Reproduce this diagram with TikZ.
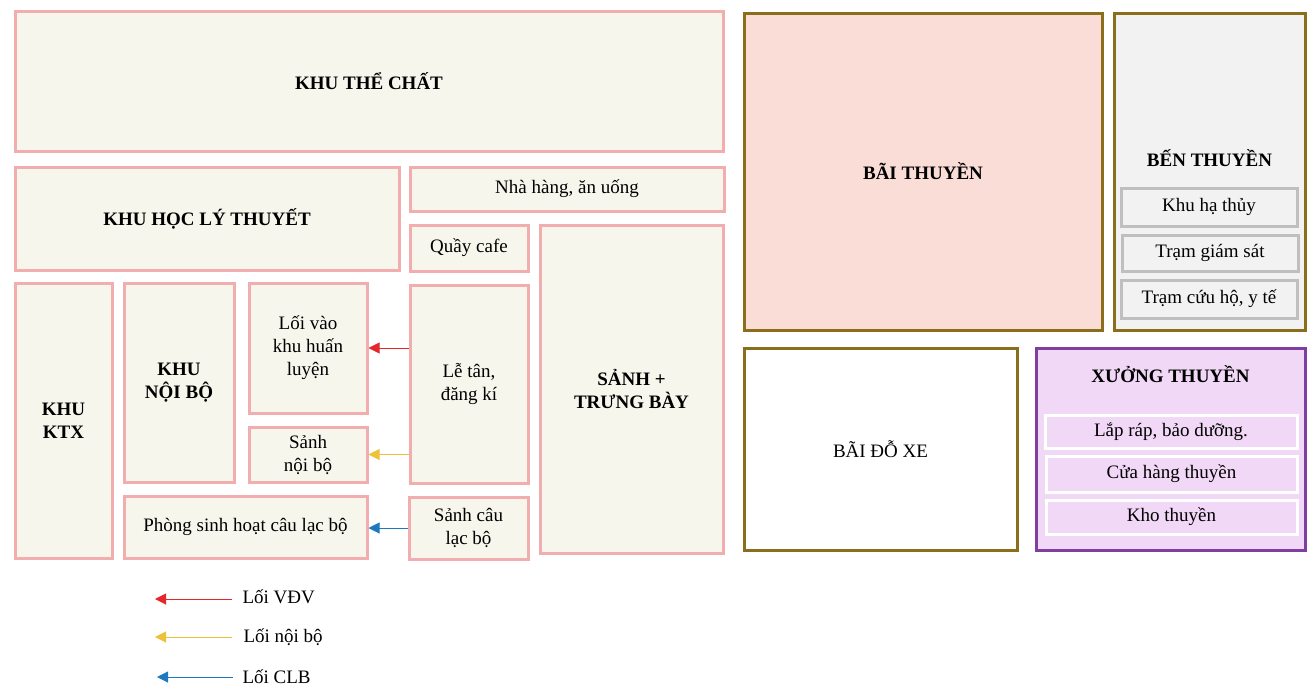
\documentclass[tikz,border=0pt]{standalone}
\usepackage{fontspec}
\setmainfont{Liberation Serif}
\usetikzlibrary{arrows.meta, positioning}

\definecolor{zoneline}{HTML}{F2AEAE}
\definecolor{zonefill}{HTML}{F7F6EC}
\definecolor{oliveline}{HTML}{8B6E1B}
\definecolor{boatfill}{HTML}{FADDD6}
\definecolor{dockfill}{HTML}{F2F2F2}
\definecolor{dockline}{HTML}{BFBFBF}
\definecolor{shopline}{HTML}{7E3FA0}
\definecolor{shopfill}{HTML}{F2D8F7}
\definecolor{vdvred}{HTML}{E5262B}
\definecolor{noiboyellow}{HTML}{EEC13B}
\definecolor{clbblue}{HTML}{1D78BD}

\begin{document}
\begin{tikzpicture}[x=1pt, y=-1pt,
    zone/.style={draw=zoneline, line width=3pt, fill=zonefill, align=center, font=\fontsize{19}{23}\selectfont},
    title/.style={font=\fontsize{19}{23}\selectfont\bfseries, align=center},
    outer/.style={draw=oliveline, line width=3pt, align=center, font=\fontsize{19}{23}\selectfont},
    sub/.style={line width=3pt, align=center, font=\fontsize{19}{23}\selectfont},
    arrow/.style={-{Triangle[length=11pt, width=11pt]}, line width=1pt},
]
    \useasboundingbox (0,0) rectangle (1315,699);

    % khu ben trai
    \node[zone, title, minimum width=708pt, minimum height=140pt] (thechat) at (369,81) {KHU THỂ CHẤT};
    \node[zone, title, minimum width=384pt, minimum height=103pt] (lythuyet) at (207,218.5) {KHU HỌC LÝ THUYẾT};
    \node[zone, minimum width=314pt, minimum height=44pt] (nhahang) at (567,189) {Nhà hàng, ăn uống};
    \node[zone, minimum width=118pt, minimum height=46pt] (cafe) at (469,248) {Quầy cafe};
    \node[zone, title, minimum width=183pt, minimum height=328pt] (sanh) at (631.5,389) {SẢNH +\\TRƯNG BÀY};
    \node[zone, title, minimum width=97pt, minimum height=275pt] (ktx) at (63.5,420.5) {KHU\\KTX};
    \node[zone, title, minimum width=110pt, minimum height=199pt] (noibo) at (179,382.5) {KHU\\NỘI BỘ};
    \node[zone, minimum width=118pt, minimum height=130pt] (loivao) at (308,348) {Lối vào\\khu huấn\\luyện};
    \node[zone, minimum width=118pt, minimum height=55pt] (sanhnb) at (308,454.5) {Sảnh\\nội bộ};
    \node[zone, minimum width=118pt, minimum height=198pt] (letan) at (469,384) {Lễ tân,\\đăng kí};
    \node[zone, minimum width=243pt, minimum height=62pt] (phong) at (245.5,527) {Phòng sinh hoạt câu lạc bộ};
    \node[zone, minimum width=119pt, minimum height=62pt] (sanhclb) at (468.5,528) {Sảnh câu\\lạc bộ};

    \draw[arrow, vdvred] (letan.west |- loivao.east) -- (loivao.east);
    \draw[arrow, noiboyellow] (letan.west |- sanhnb.east) -- (sanhnb.east);
    \draw[arrow, clbblue] (sanhclb.west) -- (sanhclb.west -| phong.east);

    % khu ben phai
    \node[outer, title, fill=boatfill, minimum width=358pt, minimum height=317pt] (baithuyen) at (923,171.5) {BÃI THUYỀN};
    \node[outer, fill=dockfill, minimum width=191pt, minimum height=317pt] (benthuyen) at (1209.5,171.5) {};
    \node[title] (bentitle) at (1209.5,158) {BẾN THUYỀN};
    \node[sub, draw=dockline, fill=dockfill, minimum width=176pt, minimum height=38pt] (hathuy) at (1209,207) {Khu hạ thủy};
    \node[sub, draw=dockline, fill=dockfill, minimum width=176pt, minimum height=36pt] (giamsat) at (1210,253) {Trạm giám sát};
    \node[sub, draw=dockline, fill=dockfill, minimum width=176pt, minimum height=38pt] (cuuho) at (1209,299) {Trạm cứu hộ, y tế};

    \node[outer, fill=white, minimum width=273pt, minimum height=202pt] (baidoxe) at (880.5,449) {BÃI ĐỖ XE};
    \node[outer, draw=shopline, fill=shopfill, minimum width=269pt, minimum height=202pt] (xuong) at (1170.5,449) {};
    \node[title] (xuongtitle) at (1170.5,374) {XƯỞNG THUYỀN};
    \node[sub, draw=white, fill=shopfill, minimum width=252pt, minimum height=33pt] (laprap) at (1171,431.5) {Lắp ráp, bảo dưỡng.};
    \node[sub, draw=white, fill=shopfill, minimum width=251pt, minimum height=36pt] (cuahang) at (1171.5,474) {Cửa hàng thuyền};
    \node[sub, draw=white, fill=shopfill, minimum width=251pt, minimum height=34pt] (kho) at (1171.5,517) {Kho thuyền};

    % chu thich
    \coordinate (vdvend) at (155,599);
    \coordinate (noiboend) at (155,637);
    \coordinate (clbend) at (157,677);
    \node[anchor=west, font=\fontsize{19}{23}\selectfont] (vdv) at (239,597) {Lối VĐV};
    \node[anchor=west, font=\fontsize{19}{23}\selectfont] (noiboleg) at (240,637) {Lối nội bộ};
    \node[anchor=west, font=\fontsize{19}{23}\selectfont] (clb) at (239,677) {Lối CLB};
    \draw[arrow, vdvred, shorten <=7pt] (vdv.west |- vdvend) -- (vdvend);
    \draw[arrow, noiboyellow, shorten <=8pt] (noiboleg.west |- noiboend) -- (noiboend);
    \draw[arrow, clbblue, shorten <=6pt] (clb.west |- clbend) -- (clbend);
\end{tikzpicture}
\end{document}
